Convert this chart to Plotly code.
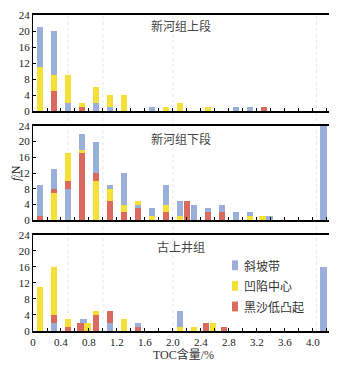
import plotly.graph_objects as go

# ---------------- data ----------------
series_names = ["斜坡带", "凹陷中心", "黑沙低凸起"]
series_colors = ["#9aafda", "#f4e036", "#da6a5e"]
panel_titles = ["新河组上段", "新河组下段", "古上井组"]

# 新河组上段
top_blue_x = [0.1, 0.3, 0.5, 0.9, 1.1, 1.7, 2.9, 3.1]
top_blue_n = [21, 20, 2, 2, 1, 1, 1, 1]
top_yellow_x = [0.1, 0.3, 0.5, 0.7, 0.9, 1.1, 1.3, 1.9, 2.1, 2.5]
top_yellow_n = [11, 9, 9, 2, 6, 4, 4, 1, 2, 1]
top_red_x = [0.3, 0.7, 3.3]
top_red_n = [5, 1, 1]

# 新河组下段
mid_blue_x = [0.1, 0.3, 0.5, 0.7, 0.9, 1.1, 1.3, 1.5, 1.7, 1.9, 2.1, 2.3, 2.5, 2.7, 2.9, 3.1, 3.38, 4.15]
mid_blue_n = [9, 13, 8, 22, 20, 9, 12, 4, 3, 9, 5, 4, 3, 4, 2, 2, 1, 24]
mid_yellow_x = [0.3, 0.5, 0.7, 0.9, 1.1, 1.3, 1.5, 1.7, 1.9, 2.1, 3.1, 3.28]
mid_yellow_n = [7, 17, 18, 10, 8, 4, 5, 1, 4, 1, 1, 1]
mid_red_x = [0.1, 0.3, 0.5, 0.7, 0.9, 1.1, 1.3, 1.5, 1.9, 2.2, 2.5, 2.7]
mid_red_n = [1, 8, 10, 17, 12, 5, 2, 3, 2, 5, 2, 2]

# 古上井组
bot_blue_x = [0.3, 0.72, 1.1, 1.5, 2.1, 4.15]
bot_blue_n = [2, 3, 2, 2, 5, 16]
bot_yellow_x = [0.1, 0.3, 0.5, 0.78, 0.9, 1.3, 2.1, 2.3, 2.57]
bot_yellow_n = [11, 16, 3, 2, 5, 3, 1, 1, 2]
bot_red_x = [0.3, 0.5, 0.68, 0.9, 1.1, 1.5, 2.47, 2.73]
bot_red_n = [4, 1, 2, 4, 5, 1, 2, 1]

x_tick_vals = [0, 0.4, 0.8, 1.2, 1.6, 2.0, 2.4, 2.8, 3.2, 3.6, 4.0]
x_tick_text = ["0", "0.4", "0.8", "1.2", "1.6", "2.0", "2.4", "2.8", "3.2", "3.6", "4.0"]
y_tick_vals = [0, 4, 8, 12, 16, 20, 24]
guide_x = [0.5, 1.0, 2.0, 4.05]

panels = [
    [(top_blue_x, top_blue_n), (top_yellow_x, top_yellow_n), (top_red_x, top_red_n)],
    [(mid_blue_x, mid_blue_n), (mid_yellow_x, mid_yellow_n), (mid_red_x, mid_red_n)],
    [(bot_blue_x, bot_blue_n), (bot_yellow_x, bot_yellow_n), (bot_red_x, bot_red_n)],
]

# ---------------- layout geometry (page px; page body has an 8px margin) ----------------
OFF = 8
W, H = 337 - OFF, 365 - OFF
PL, PR, PT, PB = 33, 329, 9, 331          # plot-area edges in page pixels
L, R, T, B = PL - OFF, (W + OFF) - PR, PT - OFF, (H + OFF) - PB
pw, ph = PR - PL, PB - PT
panel_px = [(9, 107), (122, 218), (233, 331)]  # top, bottom page pixel of each panel


def ypap(py):
    return (PB - py) / ph


def xpap(px):
    return (px - PL) / pw


fig = go.Figure()

for i, series in enumerate(panels):
    recs = []
    for s, (xs, ns) in enumerate(series):
        for xv, nv in zip(xs, ns):
            recs.append((nv, xv, series_colors[s]))
    recs.sort(key=lambda r: -r[0])  # taller bars behind shorter ones
    fig.add_trace(go.Bar(
        x=[r[1] for r in recs], y=[r[0] for r in recs],
        marker=dict(color=[r[2] for r in recs], line=dict(width=0)),
        width=0.095, showlegend=False,
        xaxis="x" if i == 0 else f"x{i+1}",
        yaxis="y" if i == 0 else f"y{i+1}",
    ))

axis_font = dict(family="Liberation Serif", size=11, color="#222")
for i in range(3):
    sfx = "" if i == 0 else str(i + 1)
    top_px, bot_px = panel_px[i]
    fig.layout["xaxis" + sfx] = dict(
        domain=[0, 1], range=[0, 4.23], anchor="y" + sfx,
        showline=True, linecolor="black", linewidth=2, mirror=True,
        ticks="inside", ticklen=3, tickcolor="black", tickwidth=1,
        tickvals=x_tick_vals, ticktext=x_tick_text,
        minor=dict(ticks="inside", ticklen=3, dtick=0.2, tick0=0, tickcolor="black"),
        showticklabels=(i == 2), tickfont=axis_font,
        showgrid=False, zeroline=False, fixedrange=True,
    )
    fig.layout["yaxis" + sfx] = dict(
        domain=[ypap(bot_px), ypap(top_px)], range=[0, 24], anchor="x" + sfx,
        showline=True, linecolor="black", linewidth=1, mirror=True,
        ticks="inside", ticklen=3, tickcolor="black",
        tickvals=y_tick_vals, tickfont=axis_font,
        showgrid=False, zeroline=False, fixedrange=True,
    )

shapes = []
for gx in guide_x:
    shapes.append(dict(type="line", xref="x3", yref="paper", x0=gx, x1=gx, y0=0, y1=1,
                       line=dict(color="#e6e6e6", width=1, dash="dot"), layer="below"))

annotations = []
title_py = [20, 135, 245]
for t, py in zip(panel_titles, title_py):
    annotations.append(dict(text=t, xref="paper", yref="paper", x=xpap(181), y=ypap(py),
                            showarrow=False, xanchor="center", yanchor="middle",
                            font=dict(family="Noto Sans CJK SC", size=12, color="#444")))

leg_py = [264, 285, 306]
for name, col, py in zip(series_names, series_colors, leg_py):
    shapes.append(dict(type="rect", xref="paper", yref="paper",
                       x0=xpap(232), x1=xpap(238), y0=ypap(py + 5), y1=ypap(py - 5),
                       fillcolor=col, line=dict(width=0)))
    annotations.append(dict(text=name, xref="paper", yref="paper", x=xpap(242), y=ypap(py),
                            showarrow=False, xanchor="left", yanchor="middle",
                            font=dict(family="Noto Sans CJK SC", size=12, color="#333")))

annotations.append(dict(text="TOC含量/%", xref="paper", yref="paper", x=xpap(183), y=ypap(355),
                        showarrow=False, xanchor="center", yanchor="middle",
                        font=dict(family="Liberation Serif, Noto Sans CJK SC", size=12, color="#333")))
annotations.append(dict(text="<i>f</i>/N", xref="paper", yref="paper", x=xpap(16), y=ypap(170),
                        showarrow=False, xanchor="center", yanchor="middle", textangle=-90,
                        borderpad=0,
                        font=dict(family="Liberation Serif", size=12, color="#222")))

fig.update_layout(
    width=W, height=H, margin=dict(l=L, r=R, t=T, b=B),
    barmode="overlay", bargap=0,
    plot_bgcolor="white", paper_bgcolor="white",
    font=dict(family="Liberation Serif, Noto Sans CJK SC", size=11, color="#222"),
    shapes=shapes, annotations=annotations,
)

fig.write_html("out.html")
